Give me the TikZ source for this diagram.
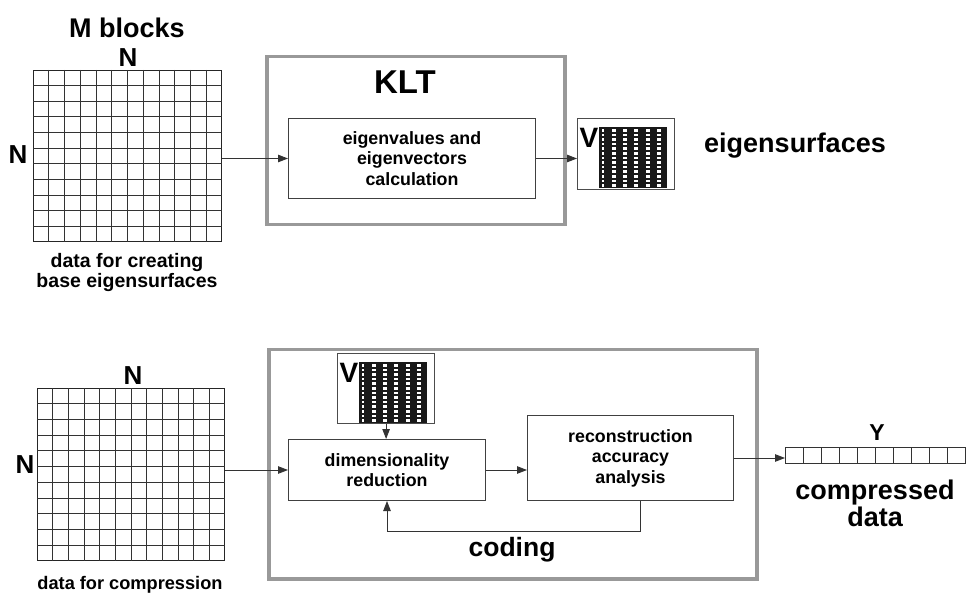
\documentclass[tikz,border=0pt]{standalone}
\usepackage{fontspec}
\setmainfont{Liberation Sans}
\usetikzlibrary{arrows.meta,calc}
\tikzset{
  gridbox/.style={draw=black!85, line width=0.9pt, inner sep=0pt, anchor=north west},
  gridline/.style={draw=black!80, line width=0.8pt},
  outerbox/.style={draw=black!40, line width=3.5pt, inner sep=0pt, anchor=north west},
  procbox/.style={draw=black!75, line width=1pt, inner sep=0pt, anchor=north west, align=center, font=\bfseries\fontsize{17.8}{20.5}\selectfont},
  vbox/.style={draw=black!70, line width=1.2pt, inner sep=0pt, anchor=north west, minimum width=97pt, minimum height=71pt},
  arr/.style={draw=black!80, line width=0.9pt, -{Triangle[length=10pt,width=7.5pt]}},
  lbl/.style={font=\bfseries\fontsize{19}{20}\selectfont, align=center},
  big/.style={font=\bfseries\fontsize{26}{27}\selectfont, align=center},
  vmat/.pic={
    \fill[black!90] (22,9) rectangle (90,70);
    \foreach \r in {0,...,12} {
      \fill[white] (24.5,{11+\r*4.6}) rectangle ++(2,2.6);
      \foreach \c in {34.5,45.5,57,68.5,80} {
        \fill[white] (\c,{11+\r*4.6}) rectangle ++(4,2.6);
      }
    }
    \node[font=\bfseries\fontsize{28}{28}\selectfont, inner sep=0pt] (V) at (12,20) {V};
  }
}
\begin{document}
\begin{tikzpicture}[x=1pt,y=-1pt]
\useasboundingbox (0,0) rectangle (966,593);

% ---------- top part ----------
\node[gridbox, minimum width=188pt, minimum height=171pt] (g1) at (33,70) {};
\foreach \i in {1,...,11}
  \draw[gridline] ($(g1.north west)!\i/12!(g1.north east)$) -- ($(g1.south west)!\i/12!(g1.south east)$);
\foreach \j in {1,...,10}
  \draw[gridline] ($(g1.north west)!\j/11!(g1.south west)$) -- ($(g1.north east)!\j/11!(g1.south east)$);

\node[big, font=\bfseries\fontsize{27}{28}\selectfont] (mb) at (127,28) {M blocks};
\node[big] (n1t) at (128,58) {N};
\node[big] (n1l) at (18,155) {N};
\node[lbl, font=\bfseries\fontsize{19.5}{20}\selectfont] (d1) at (127,273) {data for creating\\base eigensurfaces};

\node[outerbox, minimum width=298pt, minimum height=168pt] (klt) at (265,55) {};
\node[font=\bfseries\fontsize{33}{33}\selectfont] (kltt) at (405,82) {KLT};
\node[procbox, minimum width=247pt, minimum height=80pt] (eig) at (288,118) {eigenvalues and\\eigenvectors\\calculation};

\node[vbox] (v1) at (577,118) {};
\pic (pv1) at (v1.north west) {vmat};

\node[big, font=\bfseries\fontsize{27}{28}\selectfont] (es) at (795,146) {eigensurfaces};

\draw[arr] (g1.east |- eig.west) -- (eig.west);
\draw[arr] (eig.east) -- (eig.east -| v1.west);

% ---------- bottom part ----------
\node[gridbox, minimum width=187pt, minimum height=172pt] (g2) at (37,388) {};
\foreach \i in {1,...,11}
  \draw[gridline] ($(g2.north west)!\i/12!(g2.north east)$) -- ($(g2.south west)!\i/12!(g2.south east)$);
\foreach \j in {1,...,10}
  \draw[gridline] ($(g2.north west)!\j/11!(g2.south west)$) -- ($(g2.north east)!\j/11!(g2.south east)$);

\node[big] (n2t) at (133,376) {N};
\node[big] (n2l) at (25,465) {N};
\node[lbl, font=\bfseries\fontsize{18.2}{20}\selectfont] (d2) at (130,585) {data for compression};

\node[outerbox, minimum width=488pt, minimum height=229pt] (cod) at (267,348) {};
\node[procbox, minimum width=197pt, minimum height=61pt] (dim) at (288,439) {dimensionality\\reduction};
\node[procbox, minimum width=206pt, minimum height=85pt] (rec) at (527,415) {reconstruction\\accuracy\\analysis};
\node[vbox, minimum height=70pt] (v2) at (337,353) {};
\pic (pv2) at (v2.north west) {vmat};
\node[font=\bfseries\fontsize{26.5}{28}\selectfont] (codt) at (512,550) {coding};

\node[draw=black!80, line width=0.9pt, inner sep=0pt, anchor=north west, minimum width=180pt, minimum height=16pt] (strip) at (785,447) {};
\foreach \k in {1,...,9}
  \draw[gridline] ($(strip.north west)!\k/10!(strip.north east)$) -- ($(strip.south west)!\k/10!(strip.south east)$);
\node[font=\bfseries\fontsize{23}{23}\selectfont] (yl) at (877,433) {Y};
\node[font=\bfseries\fontsize{27}{27}\selectfont, align=center] (cd) at (875,503) {compressed\\data};

\draw[arr] (dim.west -| g2.east) -- (dim.west);
\draw[arr] (dim.east) -- (dim.east -| rec.west);
\draw[arr] (rec.east) -- (rec.east -| strip.west);
\draw[arr] (v2.south) -- (v2.south |- dim.north);
\coordinate (fb) at (640,531);
\draw[arr] (rec.south -| fb) -- (fb) -| (dim.south);
\end{tikzpicture}
\end{document}
